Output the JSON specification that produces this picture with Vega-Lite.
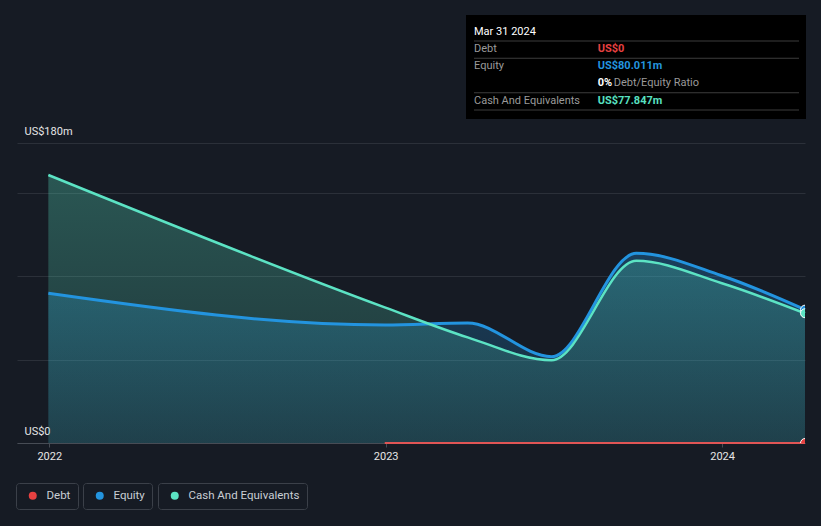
{
  "$schema": "https://vega.github.io/schema/vega-lite/v6.json",
  "width": 788,
  "height": 300,
  "autosize": {"type": "none"},
  "padding": {"left": 17, "top": 143, "right": 16, "bottom": 83},
  "background": "#161b24",
  "config": {
    "font": "Roboto",
    "view": {
      "stroke": null,
      "fill": {"gradient": "linear", "x1": 0, "y1": 0, "x2": 1, "y2": 0,
        "stops": [{"offset": 0, "color": "#161b24"}, {"offset": 1, "color": "#0f1217"}]}
    },
    "legend": {
      "orient": "none",
      "direction": "horizontal",
      "labelColor": "#c9ced4",
      "labelFontSize": 11.5,
      "labelFont": "Roboto",
      "symbolType": "circle",
      "symbolSize": 64,
      "symbolStrokeWidth": 0,
      "strokeColor": "#3b4049",
      "cornerRadius": 3,
      "padding": 7,
      "labelOffset": 8,
      "symbolOffset": 4
    }
  },
  "layer": [
    {
      "data": {
        "values": [
          {"date": "2021-12-31", "series": "Equity", "value": 89.8},
          {"date": "2022-12-31", "series": "Equity", "value": 70.8},
          {"date": "2023-03-31", "series": "Equity", "value": 72.0},
          {"date": "2023-06-30", "series": "Equity", "value": 51.8},
          {"date": "2023-09-30", "series": "Equity", "value": 113.8},
          {"date": "2023-12-31", "series": "Equity", "value": 100.5},
          {"date": "2024-03-31", "series": "Equity", "value": 80.011},
          {"date": "2021-12-31", "series": "Cash And Equivalents", "value": 160.8},
          {"date": "2022-12-31", "series": "Cash And Equivalents", "value": 81.4},
          {"date": "2023-03-31", "series": "Cash And Equivalents", "value": 63.4},
          {"date": "2023-06-30", "series": "Cash And Equivalents", "value": 49.7},
          {"date": "2023-09-30", "series": "Cash And Equivalents", "value": 109.3},
          {"date": "2023-12-31", "series": "Cash And Equivalents", "value": 96.0},
          {"date": "2024-03-31", "series": "Cash And Equivalents", "value": 77.847},
          {"date": "2022-12-31", "series": "Debt", "value": 0},
          {"date": "2023-03-31", "series": "Debt", "value": 0},
          {"date": "2023-06-30", "series": "Debt", "value": 0},
          {"date": "2023-09-30", "series": "Debt", "value": 0},
          {"date": "2023-12-31", "series": "Debt", "value": 0},
          {"date": "2024-03-31", "series": "Debt", "value": 0}
        ],
        "format": {"parse": {"date": "utc:'%Y-%m-%d'"}}
      },
      "encoding": {
        "x": {
          "field": "date", "type": "temporal",
          "scale": {"type": "utc", "domain": [
            {"year": 2021, "month": 11, "date": 27, "utc": true},
            {"year": 2024, "month": 3, "date": 31, "utc": true}]},
          "axis": {
            "values": [
              {"year": 2022, "month": 1, "date": 1, "utc": true},
              {"year": 2023, "month": 1, "date": 1, "utc": true},
              {"year": 2024, "month": 1, "date": 1, "utc": true}],
            "format": "%Y", "formatType": "utc",
            "grid": false, "title": null,
            "domainColor": "#474c55", "tickColor": "#474c55", "tickSize": 4,
            "labelColor": "#e6e6e6", "labelFontSize": 11, "labelPadding": 3,
            "labelFlush": false, "labelOverlap": false
          }
        },
        "y": {
          "field": "value", "type": "quantitative",
          "scale": {"domain": [0, 180], "nice": false, "zero": true},
          "axis": {
            "values": [0, 50, 100, 150, 180],
            "labelExpr": "datum.value == 180 ? 'US$180m' : (datum.value == 0 ? 'US$0' : '')",
            "domain": false, "ticks": false, "tickSize": 0,
            "grid": true, "gridColor": "#2b3039", "gridWidth": 1,
            "labelAlign": "left", "labelBaseline": "bottom",
            "labelPadding": -7, "labelOffset": -7,
            "labelColor": "#e6e6e6", "labelFontSize": 11,
            "labelFlush": false, "labelOverlap": false, "labelBound": false,
            "title": null
          }
        }
      },
      "layer": [
        {
          "transform": [{"filter": "datum.series == 'Equity'"}],
          "mark": {"type": "area", "interpolate": "monotone",
            "fill": {"gradient": "linear", "x1": 0, "y1": 0, "x2": 0, "y2": 1,
              "stops": [{"offset": 0, "color": "rgba(35,148,223,0.3)"}, {"offset": 1, "color": "rgba(35,148,223,0.12)"}]}}
        },
        {
          "transform": [{"filter": "datum.series == 'Cash And Equivalents'"}],
          "mark": {"type": "area", "interpolate": "monotone",
            "fill": {"gradient": "linear", "x1": 0, "y1": 0, "x2": 0, "y2": 1,
              "stops": [{"offset": 0, "color": "rgba(88,225,193,0.3)"}, {"offset": 1, "color": "rgba(88,225,193,0.12)"}]}}
        },
        {
          "transform": [{"filter": "datum.series == 'Equity'"}],
          "mark": {"type": "line", "interpolate": "monotone", "stroke": "#2394df", "strokeWidth": 3}
        },
        {
          "transform": [{"filter": "datum.series == 'Cash And Equivalents'"}],
          "mark": {"type": "line", "interpolate": "monotone", "stroke": "#5ce3c4", "strokeWidth": 2.5}
        },
        {
          "transform": [{"filter": "datum.series == 'Debt'"}],
          "mark": {"type": "line", "stroke": "#e05555", "strokeWidth": 2}
        },
        {
          "transform": [{"filter": "datum.series == 'Equity' && utcyear(datum.date) == 2024 && utcmonth(datum.date) == 2"}],
          "mark": {"type": "point", "filled": true, "size": 80, "stroke": "#ffffff", "strokeWidth": 1, "opacity": 1, "clip": true},
          "encoding": {
            "color": {"field": "series", "type": "nominal",
              "scale": {"domain": ["Equity"], "range": ["#2394df"]},
              "legend": {"title": null, "legendX": 66, "legendY": 340}}
          }
        },
        {
          "transform": [{"filter": "datum.series == 'Cash And Equivalents' && utcyear(datum.date) == 2024 && utcmonth(datum.date) == 2"}],
          "mark": {"type": "point", "filled": true, "size": 80, "fill": "#5ce3c4", "strokeWidth": 1, "opacity": 1, "clip": true},
          "encoding": {
            "stroke": {"field": "series", "type": "nominal",
              "scale": {"domain": ["Cash And Equivalents"], "range": ["#ffffff"]},
              "legend": {"title": null, "legendX": 141, "legendY": 340, "symbolFillColor": "#58e1c1", "symbolStrokeWidth": 0}}
          }
        },
        {
          "transform": [{"filter": "datum.series == 'Debt' && utcyear(datum.date) == 2024 && utcmonth(datum.date) == 2"}],
          "mark": {"type": "point", "filled": true, "size": 80, "stroke": "#ffffff", "strokeWidth": 1, "opacity": 1, "clip": true},
          "encoding": {
            "fill": {"field": "series", "type": "nominal",
              "scale": {"domain": ["Debt"], "range": ["#e64141"]},
              "legend": {"title": null, "legendX": -1, "legendY": 340}}
          }
        }
      ]
    },
    {
      "data": {
        "values": [
          {"row": 0, "label": "Mar 31 2024", "value": ""},
          {"row": 1, "label": "Debt", "value": "US$0"},
          {"row": 2, "label": "Equity", "value": "US$80.011m"},
          {"row": 3, "label": "", "value": "0%", "note": "Debt/Equity Ratio"},
          {"row": 4, "label": "Cash And Equivalents", "value": "US$77.847m"}
        ]
      },
      "encoding": {
        "y": {"field": "row", "type": "quantitative",
          "scale": {"domain": [0, 4], "range": [-111.5, -42.5]}, "axis": null}
      },
      "layer": [
        {
          "transform": [{"filter": "datum.row == 0"}],
          "mark": {"type": "rect", "x": 449, "x2": 789, "y": -128, "y2": -24, "fill": "#000000"},
          "encoding": {"y": null}
        },
        {
          "transform": [{"filter": "datum.row != 2"}],
          "mark": {"type": "rule", "x": 457, "x2": 782, "yOffset": 9.5, "stroke": "#3d3d3d", "strokeWidth": 1}
        },
        {
          "transform": [{"filter": "datum.row == 0"}],
          "mark": {"type": "text", "x": 457, "align": "left", "baseline": "middle", "fontSize": 11, "color": "#ffffff"},
          "encoding": {"text": {"field": "label"}}
        },
        {
          "transform": [{"filter": "datum.row > 0"}],
          "mark": {"type": "text", "x": 457, "align": "left", "baseline": "middle", "fontSize": 11, "color": "#9a9a9a"},
          "encoding": {"text": {"field": "label"}}
        },
        {
          "transform": [{"filter": "datum.row == 1"}],
          "mark": {"type": "text", "x": 580.7, "align": "left", "baseline": "middle", "fontSize": 11, "fontWeight": "bold", "color": "#e64141"},
          "encoding": {"text": {"field": "value"}}
        },
        {
          "transform": [{"filter": "datum.row == 2"}],
          "mark": {"type": "text", "x": 580.7, "align": "left", "baseline": "middle", "fontSize": 11, "fontWeight": "bold", "color": "#2394df"},
          "encoding": {"text": {"field": "value"}}
        },
        {
          "transform": [{"filter": "datum.row == 3"}],
          "mark": {"type": "text", "x": 580.7, "align": "left", "baseline": "middle", "fontSize": 11, "fontWeight": "bold", "color": "#ffffff"},
          "encoding": {"text": {"field": "value"}}
        },
        {
          "transform": [{"filter": "datum.row == 3"}],
          "mark": {"type": "text", "x": 596.7, "align": "left", "baseline": "middle", "fontSize": 11, "color": "#9a9a9a"},
          "encoding": {"text": {"field": "note"}}
        },
        {
          "transform": [{"filter": "datum.row == 4"}],
          "mark": {"type": "text", "x": 580.7, "align": "left", "baseline": "middle", "fontSize": 11, "fontWeight": "bold", "color": "#58e1c1"},
          "encoding": {"text": {"field": "value"}}
        }
      ]
    }
  ],
  "resolve": {"scale": {"y": "independent"}}
}
